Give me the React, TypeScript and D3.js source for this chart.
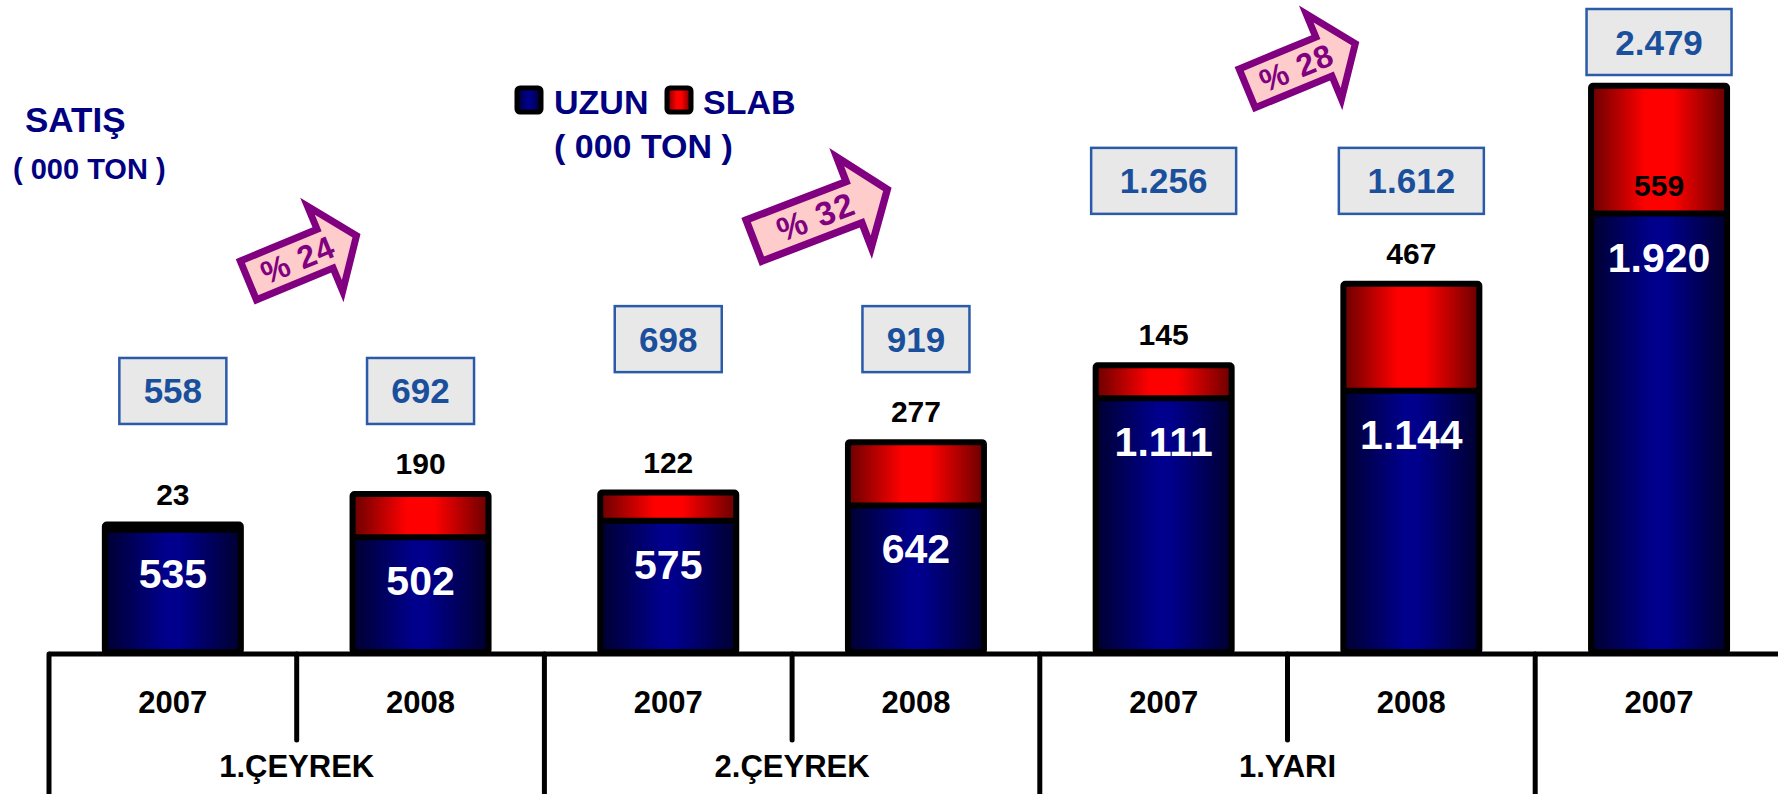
import React from "react";
import * as d3 from "d3";

// ---- data ----
const years = ["2007", "2008", "2007", "2008", "2007", "2008", "2007"];
const uzun = [535, 502, 575, 642, 1111, 1144, 1920];
const slab = [23, 190, 122, 277, 145, 467, 559];
const totals = [558, 692, 698, 919, 1256, 1612, 2479];
const groupLabels = ["1.ÇEYREK", "2.ÇEYREK", "1.YARI", ""];
const groupSizes = [2, 2, 2, 1];
const growthLabels = ["% 24", "% 32", "% 28"];

// ---- layout ----
const W = 1778;
const H = 794;
const FONT = "'Liberation Sans', Arial, Helvetica, sans-serif";
const STEP = 247.7;
const X0 = 49;
const BASE = 652;
const arrowLayout = [
  { dx: -52, dy: -76, s: 1, a: -22.5, len: 121 },
  { dx: -42, dy: -64, s: 1.05, a: -21, len: 140 },
  { dx: -44, dy: -58, s: 1, a: -22.5, len: 121 },
];

const fmt = d3
  .formatLocale({ decimal: ",", thousands: ".", grouping: [3], currency: ["", ""] })
  .format(",d");

function arrowPath(len: number) {
  const bh = 21;
  const hh = 46;
  const hb = len - 34;
  return `M4,${-bh} L${hb},${-bh} L${hb},${-hh} L${len},0 L${hb},${hh} L${hb},${bh} L4,${bh} Z`;
}

export default function App() {
  const n = uzun.length;
  const x = d3
    .scaleBand<number>()
    .domain(d3.range(n))
    .range([X0, X0 + STEP * n])
    .paddingInner(0)
    .paddingOuter(0);
  const y = d3.scaleLinear().domain([0, 2855]).range([BASE, 0]);
  const barW = 136;
  const cx = (i: number) => (x(i) as number) + x.bandwidth() / 2;

  const groupOf: number[] = [];
  groupSizes.forEach((s, g) => {
    for (let k = 0; k < s; k++) groupOf.push(g);
  });
  const groupStart: number[] = [];
  let acc = 0;
  groupSizes.forEach((s) => {
    groupStart.push(acc);
    acc += s;
  });

  const boxH = 66;
  const groupBoxTop = groupSizes.map((s, g) => {
    const idx = d3.range(groupStart[g], groupStart[g] + s);
    const top = d3.min(idx, (i) => y(totals[i])) as number;
    return Math.max(9, top - 70 - boxH);
  });

  return (
    <svg
      width={W}
      height={H}
      style={{ position: "absolute", left: 0, top: 0, background: "#fff" }}
      fontFamily={FONT}
    >
      <defs>
        <linearGradient id="gBlue" x1="0" x2="1" y1="0" y2="0">
          <stop offset="0" stopColor="#000030" />
          <stop offset="0.45" stopColor="#00008c" />
          <stop offset="0.55" stopColor="#00008c" />
          <stop offset="1" stopColor="#000030" />
        </linearGradient>
        <linearGradient id="gRed" x1="0" x2="1" y1="0" y2="0">
          <stop offset="0" stopColor="#6a0000" />
          <stop offset="0.4" stopColor="#ff0000" />
          <stop offset="0.6" stopColor="#ff0000" />
          <stop offset="1" stopColor="#6a0000" />
        </linearGradient>
      </defs>

      {/* title */}
      <text x={25} y={132} fontSize={35} fontWeight="bold" fill="#000080">
        SATIŞ
      </text>
      <text x={13} y={179} fontSize={29} fontWeight="bold" fill="#000080">
        ( 000 TON )
      </text>

      {/* legend */}
      <g>
        <rect x={517} y={88} width={24} height={24} rx={3} fill="url(#gBlue)" stroke="#000" strokeWidth={5} />
        <text x={554} y={114} fontSize={34} fontWeight="bold" fill="#000080">
          UZUN
        </text>
        <rect x={667} y={88} width={24} height={24} rx={3} fill="url(#gRed)" stroke="#000" strokeWidth={5} />
        <text x={703} y={114} fontSize={34} fontWeight="bold" fill="#000080">
          SLAB
        </text>
        <text x={554} y={158} fontSize={34} fontWeight="bold" fill="#000080">
          ( 000 TON )
        </text>
      </g>

      {/* bars */}
      {uzun.map((u, i) => {
        const x0 = cx(i) - barW / 2;
        const yTot = y(totals[i]);
        const yU = y(u);
        return (
          <g key={"bar" + i}>
            <rect x={x0} y={yTot} width={barW} height={yU - yTot} fill="url(#gRed)" />
            <rect x={x0} y={yU} width={barW} height={BASE - yU} fill="url(#gBlue)" />
            <line x1={x0} x2={x0 + barW} y1={yU} y2={yU} stroke="#000" strokeWidth={6} />
            <rect
              x={x0}
              y={yTot}
              width={barW}
              height={BASE - yTot}
              fill="none"
              stroke="#000"
              strokeWidth={6}
              rx={2}
              strokeLinejoin="round"
            />
          </g>
        );
      })}

      {/* axis */}
      <line x1={X0} x2={W} y1={654} y2={654} stroke="#000" strokeWidth={5} />
      {d3.range(n).map((k) => {
        const isGroupEdge = groupStart.includes(k);
        const xx = x(k) as number;
        return (
          <line
            key={"sep" + k}
            x1={xx}
            x2={xx}
            y1={654}
            y2={isGroupEdge ? H + 5 : 740}
            stroke="#000"
            strokeWidth={5}
            strokeLinecap="round"
          />
        );
      })}
      {years.map((yr, i) => (
        <text
          key={"yr" + i}
          x={cx(i)}
          y={713}
          textAnchor="middle"
          fontSize={31}
          fontWeight="bold"
          fill="#000"
        >
          {yr}
        </text>
      ))}
      {groupLabels.map((g, gi) => {
        const a = x(groupStart[gi]) as number;
        const b = a + STEP * groupSizes[gi];
        return (
          <text
            key={"gl" + gi}
            x={(a + b) / 2}
            y={777}
            textAnchor="middle"
            fontSize={31}
            fontWeight="bold"
            fill="#000"
          >
            {g}
          </text>
        );
      })}

      {/* value labels */}
      {uzun.map((u, i) => (
        <text
          key={"ul" + i}
          x={cx(i)}
          y={y(u) + 58}
          textAnchor="middle"
          fontSize={41}
          fontWeight="bold"
          fill="#fff"
        >
          {fmt(u)}
        </text>
      ))}
      {slab.map((s, i) => {
        const boxBottom = groupBoxTop[groupOf[i]] + boxH;
        let ly = y(totals[i]) - 20;
        if (ly - 24 < boxBottom) ly = y(uzun[i]) - 18;
        return (
          <text
            key={"sl" + i}
            x={cx(i)}
            y={ly}
            textAnchor="middle"
            fontSize={30}
            fontWeight="bold"
            fill="#000"
          >
            {fmt(s)}
          </text>
        );
      })}

      {/* total boxes */}
      {totals.map((t, i) => {
        const label = fmt(t);
        const bw = 19 * label.length + 50;
        const top = groupBoxTop[groupOf[i]];
        return (
          <g key={"box" + i}>
            <rect
              x={cx(i) - bw / 2}
              y={top}
              width={bw}
              height={boxH}
              fill="#e8e8e8"
              stroke="#2a5aa8"
              strokeWidth={2.5}
            />
            <text
              x={cx(i)}
              y={top + boxH / 2 + 12.5}
              textAnchor="middle"
              fontSize={35}
              fontWeight="bold"
              fill="#1a4f9c"
            >
              {label}
            </text>
          </g>
        );
      })}

      {/* growth arrows */}
      {growthLabels.map((lab, k) => {
        const L = arrowLayout[k];
        const sepX = x(2 * k + 1) as number;
        const tx = sepX + L.dx;
        const ty = groupBoxTop[k] + L.dy;
        return (
          <g key={"ar" + k} transform={`translate(${tx},${ty}) rotate(${L.a}) scale(${L.s})`}>
            <path d={arrowPath(L.len)} fill="#ffcccc" stroke="#800080" strokeWidth={7} strokeLinejoin="miter" />
            <text
              x={(L.len - 34) / 2 + 14}
              y={11}
              textAnchor="middle"
              fontSize={32}
              fontWeight="bold"
              fill="#800080"
              letterSpacing={1}
            >
              {lab}
            </text>
          </g>
        );
      })}
    </svg>
  );
}
